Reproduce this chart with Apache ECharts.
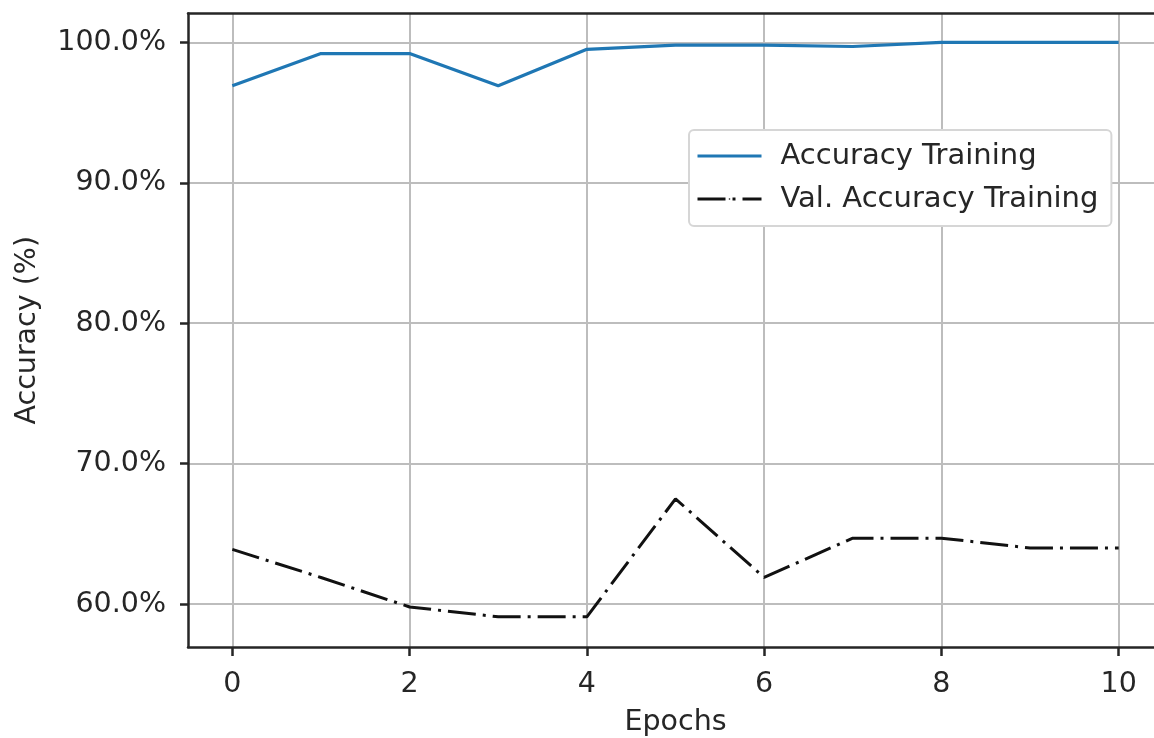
<!DOCTYPE html>
<html>
<head>
<meta charset="utf-8">
<script src="https://cdn.jsdelivr.net/npm/echarts@6/dist/echarts.min.js"></script>
<style>
  html, body { margin: 0; padding: 0; background: #fff; }
  #main { width: 1154px; height: 738px; }
</style>
</head>
<body>
<div id="main"></div>
<script>
// data
var epochs = [0, 1, 2, 3, 4, 5, 6, 7, 8, 9, 10];
var accTrain = [96.9, 99.2, 99.2, 96.9, 99.5, 99.8, 99.8, 99.7, 100, 100, 100];
var valAccTrain = [63.9, 61.9, 59.8, 59.1, 59.1, 67.5, 61.9, 64.7, 64.7, 64.0, 64.0];
var xTicks = [0, 2, 4, 6, 8, 10];
var yTicks = [60, 70, 80, 90, 100];

var txt = '#262626';
var font = 'DejaVu Sans';
var fs = 28.5;

function pairs(ys) {
    return epochs.map(function (e, i) { return [e, ys[i]]; });
}

var chart = echarts.init(document.getElementById('main'));
chart.setOption({
    animation: false,
    textStyle: { fontFamily: font },
    grid: {
        left: 188, top: 13.5, width: 975, height: 633.5,
        outerBoundsMode: 'none', containLabel: false
    },
    legend: {
        orient: 'vertical',
        left: 689, top: 130,
        padding: [10, 13, 11, 7],
        itemGap: 11,
        itemWidth: 64, itemHeight: 2,
        backgroundColor: '#fff',
        borderColor: '#d6d6d6', borderWidth: 2, borderRadius: 5,
        lineStyle: { width: 3 },
        textStyle: { fontFamily: font, fontSize: 29, color: txt, padding: [0, 0, 0, 14], lineHeight: 32 },
        data: ['Accuracy Training', 'Val. Accuracy Training']
    },
    xAxis: [
        {
            type: 'value',
            min: -0.5, max: 10.5,
            name: 'Epochs',
            nameLocation: 'middle',
            nameGap: 61,
            nameTextStyle: { fontFamily: font, fontSize: fs, color: txt },
            axisLine: { show: true, onZero: false, lineStyle: { color: txt, width: 2.5 } },
            axisTick: { show: true, length: 9, customValues: xTicks, lineStyle: { color: txt, width: 2.5 } },
            axisLabel: { customValues: xTicks, margin: 23, fontFamily: font, fontSize: fs, color: txt },
            splitLine: { show: true, lineStyle: { color: '#bdbdbd', width: 2 } }
        },
        {
            // top spine only
            type: 'value',
            position: 'top',
            min: -0.5, max: 10.5,
            axisLine: { show: true, onZero: false, lineStyle: { color: txt, width: 2.5 } },
            axisTick: { show: false },
            axisLabel: { show: false },
            splitLine: { show: false }
        }
    ],
    yAxis: {
        type: 'value',
        min: 56.95, max: 102.05,
        name: 'Accuracy (%)',
        nameLocation: 'middle',
        nameGap: 146,
        nameTextStyle: { fontFamily: font, fontSize: fs, color: txt },
        axisLine: { show: true, onZero: false, lineStyle: { color: txt, width: 2.5 } },
        axisTick: { show: true, length: 8, customValues: yTicks, lineStyle: { color: txt, width: 2.5 } },
        axisLabel: {
            customValues: yTicks, margin: 22, fontFamily: font, fontSize: fs, color: txt,
            formatter: function (v) { return v.toFixed(1) + '%'; }
        },
        splitLine: { show: true, lineStyle: { color: '#bdbdbd', width: 2 } }
    },
    series: [
        {
            name: 'Accuracy Training',
            type: 'line',
            symbol: 'none',
            data: pairs(accTrain),
            itemStyle: { color: '#1f77b4' },
            lineStyle: { color: '#1f77b4', width: 3.2 }
        },
        {
            name: 'Val. Accuracy Training',
            type: 'line',
            symbol: 'none',
            data: pairs(valAccTrain),
            itemStyle: { color: '#111' },
            lineStyle: { color: '#111', width: 3, type: [28, 7, 3, 7] }
        }
    ]
});
</script>
</body>
</html>
